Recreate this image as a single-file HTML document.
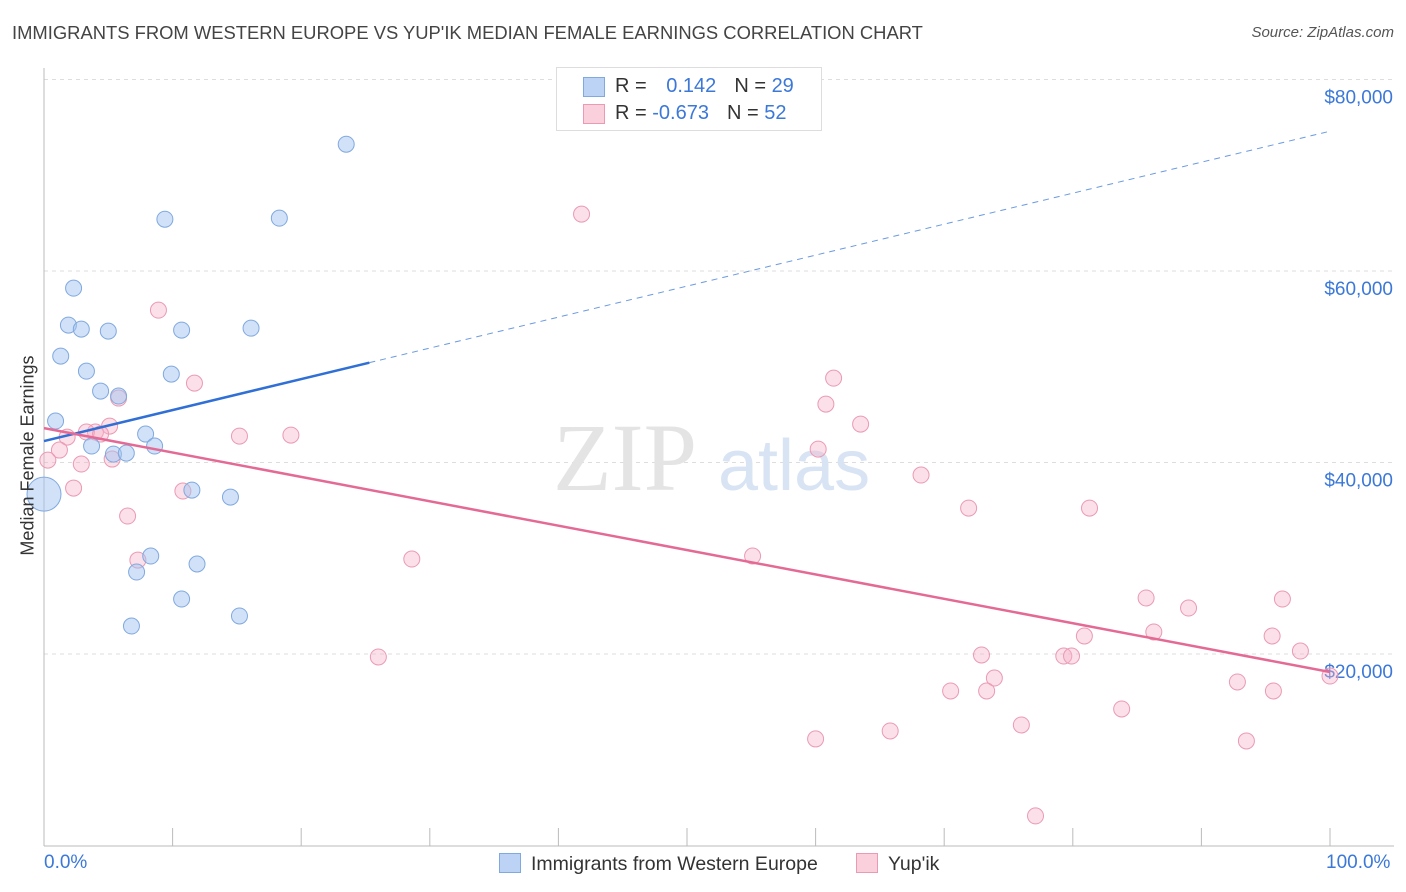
<!DOCTYPE html>
<html><head><meta charset="utf-8">
<style>
body{margin:0;background:#fff;font-family:"Liberation Sans",sans-serif;}
#wrap{position:relative;width:1406px;height:892px;overflow:hidden;}
.t{position:absolute;white-space:nowrap;}
</style></head>
<body>
<div id="wrap">
<div class="t" style="left:12px;top:22px;font-size:18.4px;color:#444;">IMMIGRANTS FROM WESTERN EUROPE VS YUP'IK MEDIAN FEMALE EARNINGS CORRELATION CHART</div>
<div class="t" style="right:12px;top:24px;font-size:15px;color:#555;font-style:italic;">Source: ZipAtlas.com</div>
<svg id="svg" width="1406" height="892" style="position:absolute;left:0;top:0"></svg>
</div>
<script>
const blueX=[23.5,9.4,18.3,2.3,1.9,2.9,5.0,10.7,16.1,1.3,3.3,9.9,4.4,5.8,0.9,7.9,3.7,8.6,5.4,6.4,0,11.5,14.5,8.3,7.2,11.9,10.7,6.8,15.2];
const blueY=[73240,65410,65520,58210,54350,53930,53720,53830,54030,51110,49540,49230,47460,46940,44330,42970,41720,41720,40880,40980,36700,37120,36390,30230,28560,29400,25740,22920,23970];
const pinkX=[41.8,8.9,11.7,61.4,60.8,63.5,5.8,5.1,1.8,4.0,3.3,4.4,15.2,19.2,1.2,0.3,2.9,5.3,60.2,68.2,2.3,10.8,6.5,71.9,81.3,7.3,28.6,55.1,85.7,89.0,96.3,80.9,86.3,95.5,26.0,72.9,79.3,79.9,97.7,100,73.9,70.5,73.3,92.8,95.6,83.8,76.0,65.8,60.0,93.5,77.1];
const pinkY=[65940,55910,48290,48810,46100,44010,46730,43800,42650,43180,43180,42970,42760,42860,41300,40250,39840,40360,41400,38690,37330,37020,34410,35240,35240,29810,29920,30230,25850,24800,25740,21880,22300,21880,19690,19900,19790,19790,20310,17700,17490,16140,16140,17080,16140,14260,12590,11960,11130,10920,3090];
const yTicks=[20000,40000,60000,80000];
const yTickLabels=["$20,000","$40,000","$60,000","$80,000"];
const blueTrend=[42240,74600];
const pinkTrend=[43590,18120];
const blueSolidEnd=25.3;

const NS="http://www.w3.org/2000/svg";
const svg=document.getElementById('svg');
const sx=p=>44+p*12.86;
const sy=v=>654-(v-20000)*191.5/20000;
function mk(tag,attrs,parent){const e=document.createElementNS(NS,tag);for(const k in attrs)e.setAttribute(k,attrs[k]);(parent||svg).appendChild(e);return e;}

yTicks.forEach((v,i)=>{
  const g=mk('line',{x1:44,x2:1394,y1:sy(v),y2:sy(v),stroke:'#ddd','stroke-dasharray':'4,4'});
  
  
  const t=mk('text',{x:1393,y:sy(v)+24,'text-anchor':'end','font-size':19,fill:'#3b78d8','font-family':'Liberation Sans, sans-serif'});
  t.textContent=yTickLabels[i];
  
  
});
mk('line',{x1:44,x2:44,y1:68,y2:846,stroke:'#bbb'});
mk('line',{x1:44,x2:1394,y1:846,y2:846,stroke:'#bbb'});
for(let i=0;i<=10;i++){mk('line',{x1:sx(i*10),x2:sx(i*10),y1:828,y2:846,stroke:'#bbb'});}
const wm=mk('text',{x:553,y:490,'font-size':96,fill:'#e4e4e4','font-family':'Liberation Serif, serif'});wm.textContent='ZIP';


const wm2=mk('text',{x:718,y:490,'font-size':72,fill:'#d8e4f4','font-family':'Liberation Sans, sans-serif'});wm2.textContent='atlas';
pinkX.forEach((x,i)=>{const c=mk('circle',{cx:sx(x),cy:sy(pinkY[i]),r:8,fill:'rgba(246,178,200,0.4)',stroke:'#eb9ab3','stroke-width':1});

});
blueX.forEach((x,i)=>{const c=mk('circle',{cx:sx(x),cy:sy(blueY[i]),r:(i===20?17:8),fill:'rgba(164,196,240,0.5)',stroke:'#80a9e0','stroke-width':1});

});
const bAt=p=>blueTrend[0]+(blueTrend[1]-blueTrend[0])*p/100;
const bl=mk('line',{x1:sx(0),y1:sy(bAt(0)),x2:sx(blueSolidEnd),y2:sy(bAt(blueSolidEnd)),stroke:'#2f6fd6','stroke-width':2.5});


mk('line',{x1:sx(blueSolidEnd),y1:sy(bAt(blueSolidEnd)),x2:sx(100),y2:sy(bAt(100)),stroke:'#6b9ae0','stroke-width':1,'stroke-dasharray':'6,5'});
const pl=mk('line',{x1:sx(0),y1:sy(pinkTrend[0]),x2:sx(100),y2:sy(pinkTrend[1]),stroke:'#e46a95','stroke-width':2.5});


</script>
<div class="t" style="left:-75px;top:445px;width:206px;text-align:center;font-size:18px;color:#333;transform:rotate(-90deg);">Median Female Earnings</div>
<div class="t" style="left:44px;top:852px;font-size:19px;color:#3b78d8;">0.0%</div>
<div class="t" style="left:1326px;top:852px;font-size:19px;color:#3b78d8;">100.0%</div>
<div style="position:absolute;left:556px;top:67px;width:264px;height:62px;border:1px solid #ddd;background:#fff;font-size:20px;">
  <div style="position:absolute;left:26px;top:9px;width:20px;height:18px;background:#bcd3f5;border:1px solid #80a9e0;"></div>
  <div class="t" style="left:58px;top:7px;color:#333;">R = <span style="color:#3b78d8;margin-left:14px">0.142</span><span style="margin-left:18px">N = </span><span style="color:#3b78d8">29</span></div>
  <div style="position:absolute;left:26px;top:36px;width:20px;height:18px;background:#fbd0dd;border:1px solid #eb9ab3;"></div>
  <div class="t" style="left:58px;top:34px;color:#333;">R = <span style="color:#3b78d8">-0.673</span><span style="margin-left:18px">N = </span><span style="color:#3b78d8">52</span></div>
</div>
<div style="position:absolute;left:499px;top:853px;font-size:19.5px;color:#333;">
  <span style="display:inline-block;width:20px;height:18px;background:#bcd3f5;border:1px solid #80a9e0;vertical-align:-3px;margin-right:10px"></span>Immigrants from Western Europe</div>
<div style="position:absolute;left:856px;top:853px;font-size:19.5px;color:#333;">
  <span style="display:inline-block;width:20px;height:18px;background:#fbd0dd;border:1px solid #eb9ab3;vertical-align:-3px;margin-right:10px"></span>Yup'ik</div>
</body></html>
